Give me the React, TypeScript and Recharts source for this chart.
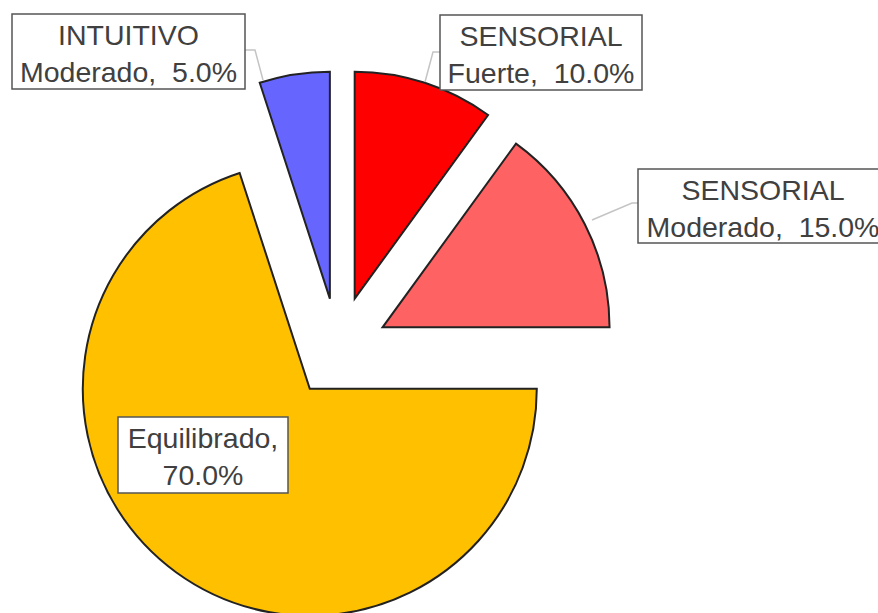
import React from 'react';
import { PieChart, Pie, Cell, Sector } from 'recharts';

const names = ['SENSORIAL Fuerte', 'SENSORIAL Moderado', 'Equilibrado', 'INTUITIVO Moderado'];
const values = [10, 15, 70, 5];
const labelTop = ['SENSORIAL', 'SENSORIAL', 'Equilibrado,', 'INTUITIVO'];
const labelSub = ['Fuerte,  ', 'Moderado,  ', '', 'Moderado,  '];
const colors = ['#FF0000', '#FF6262', '#FFC000', '#6666FF'];

// how far each slice is pulled away from the centre (px)
const explode = [54, 50, 48, 52];

// label boxes and their leader lines
const boxes = [
  { x: 440, y: 15, w: 202, h: 75, line: [[440, 52], [433, 52], [425, 82]] },
  { x: 638, y: 169, w: 250, h: 74, line: [[638, 203], [632, 203], [592, 220]] },
  { x: 118, y: 417, w: 170, h: 76, line: null },
  { x: 12, y: 14, w: 233, h: 75, line: [[245, 50], [255, 50], [263, 80]] },
];

const total = values.reduce((s, v) => s + v, 0);
const data = names.map((name, i) => ({ name, value: values[i] }));

const RAD = Math.PI / 180;
const FONT = '"Liberation Sans", Arial, sans-serif';

const ExplodedSector = (props: any) => {
  const i = names.indexOf(props.name);
  const off = explode[i] ?? 0;
  const dx = off * Math.cos(-props.midAngle * RAD);
  const dy = off * Math.sin(-props.midAngle * RAD);
  return <Sector {...props} cx={props.cx + dx} cy={props.cy + dy} />;
};

const renderLabel = (props: any) => {
  const i = props.index;
  const b = boxes[i];
  const pct = ((values[i] / total) * 100).toFixed(1) + '%';
  return (
    <g>
      {b.line && (
        <polyline
          points={b.line.map((p) => p.join(',')).join(' ')}
          fill="none"
          stroke="#c4c4c4"
          strokeWidth={1.5}
        />
      )}
      <rect x={b.x} y={b.y} width={b.w} height={b.h} fill="#ffffff" stroke="#555555" strokeWidth={1.5} />
      <text
        x={b.x + b.w / 2}
        y={b.y + 31}
        textAnchor="middle"
        fontFamily={FONT}
        fontSize={28.5}
        fill="#404040"
        style={{ whiteSpace: 'pre' }}
      >
        {labelTop[i]}
      </text>
      <text
        x={b.x + b.w / 2}
        y={b.y + 68}
        textAnchor="middle"
        fontFamily={FONT}
        fontSize={28.5}
        fill="#404040"
        style={{ whiteSpace: 'pre' }}
      >
        {labelSub[i] + pct}
      </text>
    </g>
  );
};

export default function App() {
  return (
    <div style={{ position: 'absolute', left: 0, top: 0, width: 878, height: 613, background: '#fff' }}>
      <PieChart width={878} height={613} margin={{ top: 0, right: 0, bottom: 0, left: 0 }}>
        <Pie
          data={data}
          dataKey="value"
          nameKey="name"
          cx={338}
          cy={350}
          outerRadius={227}
          startAngle={90}
          endAngle={-270}
          stroke="#222222"
          strokeWidth={2}
          shape={ExplodedSector}
          label={renderLabel}
          labelLine={false}
          isAnimationActive={false}
        >
          {data.map((d, i) => (
            <Cell key={d.name} fill={colors[i]} />
          ))}
        </Pie>
      </PieChart>
    </div>
  );
}
